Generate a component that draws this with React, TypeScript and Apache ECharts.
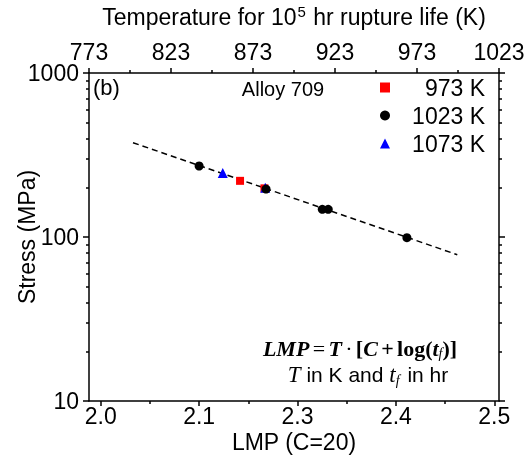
import React, { useEffect, useRef } from 'react';
import * as echarts from 'echarts';

// ---- tick values / labels ----
const xTickValues = [2.0, 2.125, 2.25, 2.375, 2.5];
const xTickLabels = ['2.0', '2.1', '2.3', '2.4', '2.5'];
const xMinorValues = [2.0625, 2.1875, 2.3125, 2.4375];
const topTickValues = [773, 823, 873, 923, 973, 1023];
const topTickLabels = ['773', '823', '873', '923', '973', '1023'];
const topMinorValues = [798, 848, 898, 948, 998];
const yTickLabels: Record<number, string> = { 10: '10', 100: '100', 1000: '1000' };
const yMinorValues = [20, 30, 40, 50, 60, 70, 80, 90, 200, 300, 400, 500, 600, 700, 800, 900];

// ---- data ----
const lmp973 = [2.177, 2.208];
const stress973 = [220, 198];
const lmp1023 = [2.125, 2.21, 2.2815, 2.289, 2.389];
const stress1023 = [271, 196, 147.5, 147.5, 99];
const lmp1073 = [2.155, 2.209];
const stress1073 = [246, 200];
const fitLMP = [2.041, 2.453];
const fitStress = [376, 78];

const X_MIN = 1.9851;
const X_MAX = 2.506;

const SANS = 'Liberation Sans, Arial, sans-serif';
const SERIF = 'Liberation Serif, Times New Roman, serif';
const FS = 23;

const zip = (a: number[], b: number[]) => a.map((v, i) => [v, b[i]]);

const axisLine = { show: true, lineStyle: { color: '#000', width: 1.5 } };

export default function App() {
  const ref = useRef<HTMLDivElement>(null);
  useEffect(() => {
    const chart = echarts.init(ref.current!, null, { renderer: 'svg' });
    const option: any = {
      animation: false,
      textStyle: { fontFamily: SANS },
      grid: { left: 89, top: 73, width: 410, height: 328, containLabel: false, outerBoundsMode: 'none' },
      xAxis: [
        {
          type: 'value', position: 'bottom', min: X_MIN, max: X_MAX,
          axisLine,
          axisTick: { show: true, inside: false, length: 5, customValues: xTickValues, lineStyle: { color: '#000', width: 1.5 } },
          axisLabel: {
            show: true, customValues: xTickValues, margin: 3, fontSize: FS, color: '#000', fontFamily: SANS,
            formatter: (v: number) => {
              const i = xTickValues.findIndex((t) => Math.abs(t - v) < 1e-6);
              return i >= 0 ? xTickLabels[i] : '';
            },
          },
          splitLine: { show: false },
          name: 'LMP (C=20)', nameLocation: 'middle', nameGap: 29, nameMoveOverlap: false,
          nameTextStyle: { fontSize: FS, color: '#000', fontFamily: SANS },
        },
        {
          type: 'value', position: 'top', min: 773, max: 1023,
          axisLine,
          axisTick: { show: true, inside: false, length: 5, customValues: topTickValues, lineStyle: { color: '#000', width: 1.5 } },
          axisLabel: {
            show: true, customValues: topTickValues, margin: 10, fontSize: FS, color: '#000', fontFamily: SANS,
            formatter: (v: number) => {
              const i = topTickValues.findIndex((t) => Math.abs(t - v) < 1e-6);
              return i >= 0 ? topTickLabels[i] : '';
            },
          },
          splitLine: { show: false },
          name: '{n|Temperature for 10}{sup|5}{n| hr rupture life (K)}',
          nameLocation: 'middle', nameGap: 44, nameMoveOverlap: false,
          nameTextStyle: {
            fontSize: FS, color: '#000', fontFamily: SANS,
            rich: {
              n: { fontSize: FS, color: '#000', fontFamily: SANS },
              sup: { fontSize: 15, color: '#000', fontFamily: SANS, verticalAlign: 'top', padding: [0, 1, 10, 1] },
            },
          },
        },
        {
          type: 'value', position: 'bottom', min: X_MIN, max: X_MAX,
          axisLine: { show: false },
          axisTick: { show: true, inside: false, length: 3, customValues: xMinorValues, lineStyle: { color: '#000', width: 1.5 } },
          axisLabel: { show: false },
          splitLine: { show: false },
        },
        {
          type: 'value', position: 'top', min: 773, max: 1023,
          axisLine: { show: false },
          axisTick: { show: true, inside: false, length: 3, customValues: topMinorValues, lineStyle: { color: '#000', width: 1.5 } },
          axisLabel: { show: false },
          splitLine: { show: false },
        },
      ],
      yAxis: [
        {
          type: 'log', position: 'left', min: 10, max: 1000, logBase: 10,
          axisLine,
          axisTick: { show: true, inside: false, length: 6, lineStyle: { color: '#000', width: 1.5 } },
          axisLabel: {
            show: true, margin: 10, fontSize: FS, color: '#000', fontFamily: SANS,
            formatter: (v: number) => yTickLabels[Math.round(v)] ?? String(Math.round(v)),
          },
          splitLine: { show: false },
          minorTick: { show: false },
          name: 'Stress (MPa)', nameLocation: 'middle', nameGap: 51, nameRotate: 90, nameMoveOverlap: false,
          nameTextStyle: { fontSize: FS, color: '#000', fontFamily: SANS },
        },
        {
          type: 'log', position: 'right', min: 10, max: 1000, logBase: 10,
          axisLine,
          axisTick: { show: true, inside: false, length: 6, lineStyle: { color: '#000', width: 1.5 } },
          axisLabel: { show: false },
          splitLine: { show: false },
        },
        {
          type: 'value', position: 'left', min: 1, max: 3,
          axisLine: { show: false },
          axisTick: { show: true, inside: false, length: 3, customValues: yMinorValues.map((v) => Math.log10(v)), lineStyle: { color: '#000', width: 1.5 } },
          axisLabel: { show: false },
          splitLine: { show: false },
        },
        {
          type: 'value', position: 'right', min: 1, max: 3,
          axisLine: { show: false },
          axisTick: { show: true, inside: false, length: 3, customValues: yMinorValues.map((v) => Math.log10(v)), lineStyle: { color: '#000', width: 1.5 } },
          axisLabel: { show: false },
          splitLine: { show: false },
        },
      ],
      legend: {
        data: ['973 K', '1023 K', '1073 K'],
        orient: 'vertical', left: 375, top: 71,
        itemWidth: 10, itemHeight: 10, itemGap: 5, itemTextGap: 5,
        formatter: '{a|{name}}',
        textStyle: {
          rich: { a: { width: 90, align: 'right', fontSize: FS, lineHeight: 23, color: '#000', fontFamily: SANS } },
        },
      },
      series: [
        {
          name: 'fit', type: 'line', xAxisIndex: 0, yAxisIndex: 0,
          data: zip(fitLMP, fitStress), symbol: 'none',
          lineStyle: { color: '#000', width: 1.5, type: [6, 4] }, z: 1,
        },
        {
          name: '973 K', type: 'scatter', xAxisIndex: 0, yAxisIndex: 0,
          data: zip(lmp973, stress973), symbol: 'rect', symbolSize: 8,
          itemStyle: { color: '#ff0000', opacity: 1 }, z: 2,
        },
        {
          name: '1073 K', type: 'scatter', xAxisIndex: 0, yAxisIndex: 0,
          data: zip(lmp1073, stress1073), symbol: 'triangle', symbolSize: 10,
          itemStyle: { color: '#0000ff', opacity: 1 }, z: 3,
        },
        {
          name: '1023 K', type: 'scatter', xAxisIndex: 0, yAxisIndex: 0,
          data: zip(lmp1023, stress1023), symbol: 'circle', symbolSize: 9,
          itemStyle: { color: '#000', opacity: 1 }, z: 4,
        },
      ],
      graphic: [
        { type: 'text', left: 93, top: 76, style: { text: '(b)', fontSize: 22, fontFamily: SANS, fill: '#000' } },
        { type: 'text', x: 283, y: 89, style: { text: 'Alloy 709', fontSize: 20, fontFamily: SANS, fill: '#000', align: 'center', verticalAlign: 'middle' } },
        {
          type: 'text', x: 360, y: 348,
          style: {
            text: '{b|LMP} {r|=} {b|T} {r|·} {bu|[}{b|C} {bu|+} {bu|log(}{b|t}{sub|f}{bu|)]}',
            align: 'center', verticalAlign: 'middle',
            rich: {
              b: { fontFamily: SERIF, fontWeight: 'bold', fontStyle: 'italic', fontSize: 22, fill: '#000' },
              bu: { fontFamily: SERIF, fontWeight: 'bold', fontSize: 22, fill: '#000' },
              r: { fontFamily: SERIF, fontSize: 22, fill: '#000' },
              sub: { fontFamily: SERIF, fontStyle: 'italic', fontSize: 14, fill: '#000', padding: [11, 0, 0, 0] },
            },
          },
        },
        {
          type: 'text', x: 368, y: 374,
          style: {
            text: '{it|T}{s| in K and }{it|t}{sub|f}{s| in hr}',
            align: 'center', verticalAlign: 'middle',
            rich: {
              it: { fontFamily: SERIF, fontStyle: 'italic', fontSize: 23, fill: '#000' },
              s: { fontFamily: SANS, fontSize: 21, fill: '#000' },
              sub: { fontFamily: SERIF, fontStyle: 'italic', fontSize: 14, fill: '#000', padding: [12, 2, 0, 0] },
            },
          },
        },
      ],
    };
    chart.setOption(option);
    return () => chart.dispose();
  }, []);
  return <div ref={ref} style={{ position: 'fixed', left: 0, top: 0, width: 526, height: 457 }} />;
}
